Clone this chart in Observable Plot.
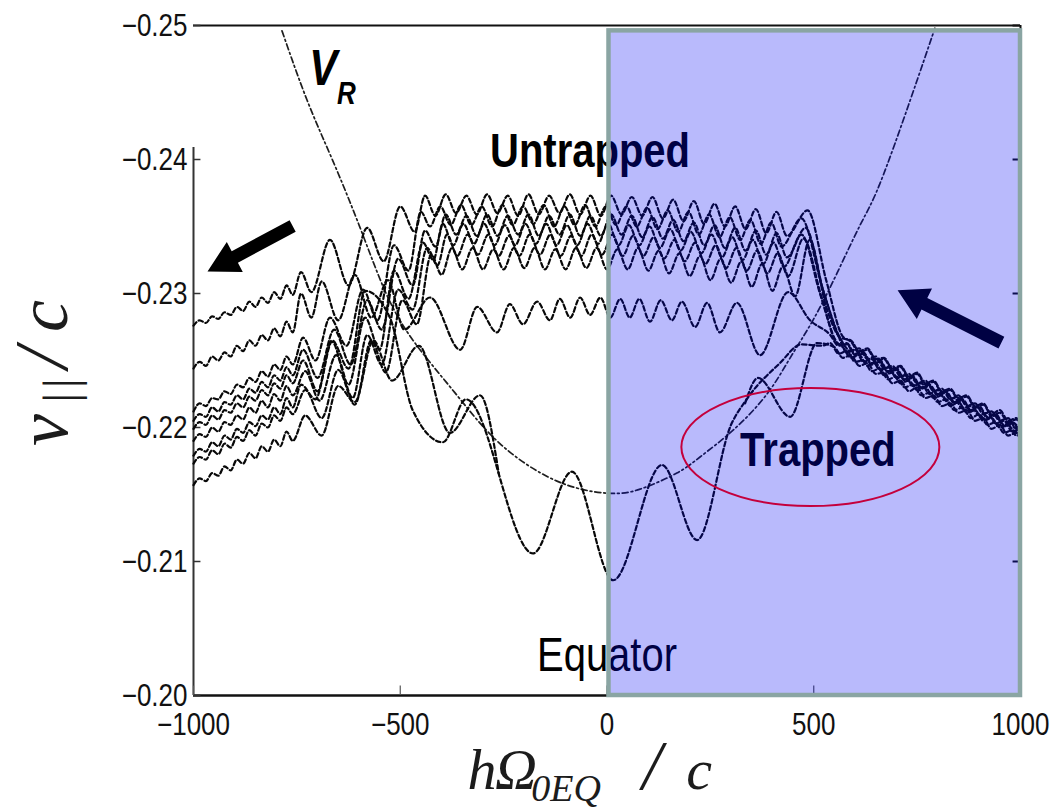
<!DOCTYPE html>
<html>
<head>
<meta charset="utf-8">
<script src="https://cdn.jsdelivr.net/npm/d3@7"></script>
<script src="https://cdn.jsdelivr.net/npm/@observablehq/plot@0.6"></script>
<style>
  html, body { margin: 0; padding: 0; background: #fff; }
  #chart { width: 1053px; height: 810px; }
</style>
</head>
<body>
<div id="chart"></div>
<script>
// Axis ticks
const xTicks = [-1000, -500, 0, 500, 1000];
const yTicks = [-0.25, -0.24, -0.23, -0.22, -0.21, -0.20];

// Resonance velocity V_R along the field line: [h, v]
const resonanceVR = [
  [-786,-0.2496],[-725,-0.2444],[-663,-0.2399],[-597,-0.2349],[-537,-0.2302],[-469,-0.2265],
  [-368,-0.2226],[-259,-0.2188],[-121,-0.2160],[0,-0.2151],[80,-0.2154],[169,-0.2166],
  [225,-0.2178],[305,-0.2198],[387,-0.2225],[443,-0.2252],[498,-0.2280],[556,-0.2315],
  [612,-0.2351],[660,-0.2382],[733,-0.2444],[793,-0.2498]
];

// Particle orbits, [h, v] at the turning points of the oscillation
const untrappedA = [
  [-1000,-0.2276],[-985,-0.2280],[-970,-0.2278],[-955,-0.2283],[-940,-0.2281],[-925,-0.2286],[-910,-0.2284],[-895,-0.2290],[-880,-0.2287],[-865,-0.2294],[-850,-0.2290],[-835,-0.2297],[-820,-0.2293],[-805,-0.2301],[-790,-0.2296],[-775,-0.2306],[-760,-0.2299],
  [-740,-0.2316],[-715,-0.2301],[-670,-0.2340],[-625,-0.2306],[-580,-0.2349],[-540,-0.2324],[-500,-0.2365],[-465,-0.2346],
  [-440,-0.2373],[-415,-0.2358],[-390,-0.2374],[-365,-0.2360],[-340,-0.2373],[-315,-0.2359],[-290,-0.2374],[-265,-0.2360],[-240,-0.2373],[-215,-0.2358],[-190,-0.2374],[-165,-0.2359],[-140,-0.2373],[-115,-0.2360],[-90,-0.2374],[-65,-0.2359],[-40,-0.2373],[-15,-0.2358],[10,-0.2373],[35,-0.2359],[60,-0.2372],[85,-0.2358],[110,-0.2372],[135,-0.2356],[160,-0.2370],[185,-0.2354],[210,-0.2369],[235,-0.2352],[260,-0.2367],[285,-0.2350],[310,-0.2365],[335,-0.2348],[360,-0.2363],[385,-0.2345],[410,-0.2361],[435,-0.2343],
  [485,-0.2362],[530,-0.2310],[570,-0.2268],
  [590,-0.2264],[610,-0.2256],[630,-0.2258],[650,-0.2250],[670,-0.2251],[690,-0.2243],[710,-0.2245],[730,-0.2237],[750,-0.2240],[770,-0.2232],[790,-0.2234],[810,-0.2226],[830,-0.2228],[850,-0.2221],[870,-0.2223],[890,-0.2215],[910,-0.2217],[930,-0.2209],[950,-0.2211],[970,-0.2204],[990,-0.2206],[1000,-0.2202]
];
const untrappedB = [
  [-1000,-0.2212],[-985,-0.2218],[-970,-0.2216],[-955,-0.2222],[-940,-0.2221],[-925,-0.2227],[-910,-0.2225],[-895,-0.2232],[-880,-0.2230],[-865,-0.2237],[-850,-0.2234],[-835,-0.2242],[-820,-0.2238],[-805,-0.2247],[-790,-0.2243],[-775,-0.2253],[-760,-0.2247],
  [-735,-0.2267],[-705,-0.2250],[-670,-0.2282],[-630,-0.2261],[-590,-0.2303],[-555,-0.2280],[-515,-0.2336],[-480,-0.2317],[-450,-0.2361],
  [-428,-0.2350],[-403,-0.2365],[-378,-0.2351],[-353,-0.2366],[-328,-0.2351],[-303,-0.2365],[-278,-0.2350],[-253,-0.2366],[-228,-0.2351],[-203,-0.2365],[-178,-0.2352],[-153,-0.2366],[-128,-0.2350],[-103,-0.2365],[-78,-0.2351],[-53,-0.2366],[-28,-0.2350],[-3,-0.2365],[22,-0.2351],[47,-0.2365],[72,-0.2350],[97,-0.2364],[122,-0.2348],[147,-0.2362],[172,-0.2346],[197,-0.2361],[222,-0.2344],[247,-0.2359],[272,-0.2342],[297,-0.2357],[322,-0.2340],[347,-0.2355],[372,-0.2337],[397,-0.2353],[422,-0.2335],
  [470,-0.2356],[520,-0.2305],[560,-0.2268],
  [580,-0.2256],[600,-0.2258],[620,-0.2249],[640,-0.2251],[660,-0.2243],[680,-0.2245],[700,-0.2237],[720,-0.2239],[740,-0.2231],[760,-0.2233],[780,-0.2225],[800,-0.2228],[820,-0.2220],[840,-0.2222],[860,-0.2214],[880,-0.2216],[900,-0.2209],[920,-0.2211],[940,-0.2203],[960,-0.2205],[980,-0.2197],[1000,-0.2199]
];
const untrappedC = [
  [-1000,-0.2205],[-985,-0.2210],[-970,-0.2208],[-955,-0.2215],[-940,-0.2212],[-925,-0.2219],[-910,-0.2217],[-895,-0.2224],[-880,-0.2221],[-865,-0.2229],[-850,-0.2226],[-835,-0.2234],[-820,-0.2230],[-805,-0.2239],[-790,-0.2235],[-775,-0.2245],[-760,-0.2239],
  [-735,-0.2258],[-700,-0.2237],[-660,-0.2273],[-620,-0.2247],[-580,-0.2295],[-545,-0.2273],[-505,-0.2326],[-470,-0.2306],[-440,-0.2347],
  [-415,-0.2335],[-390,-0.2359],[-365,-0.2344],[-340,-0.2358],[-315,-0.2343],[-290,-0.2359],[-265,-0.2343],[-240,-0.2358],[-215,-0.2344],[-190,-0.2359],[-165,-0.2343],[-140,-0.2358],[-115,-0.2344],[-90,-0.2359],[-65,-0.2343],[-40,-0.2358],[-15,-0.2343],[10,-0.2359],[35,-0.2344],[60,-0.2358],[85,-0.2342],[110,-0.2357],[135,-0.2341],[160,-0.2355],[185,-0.2339],[210,-0.2353],[235,-0.2336],[260,-0.2351],[285,-0.2334],[310,-0.2349],[335,-0.2332],[360,-0.2347],[385,-0.2329],[410,-0.2345],[435,-0.2327],
  [480,-0.2349],[525,-0.2300],[565,-0.2266],
  [590,-0.2257],[610,-0.2259],[630,-0.2251],[650,-0.2253],[670,-0.2244],[690,-0.2246],[710,-0.2238],[730,-0.2240],[750,-0.2233],[770,-0.2235],[790,-0.2227],[810,-0.2229],[830,-0.2221],[850,-0.2224],[870,-0.2216],[890,-0.2218],[910,-0.2210],[930,-0.2212],[950,-0.2205],[970,-0.2207],[990,-0.2199],[1000,-0.2201]
];
const untrappedD = [
  [-1000,-0.2199],[-985,-0.2204],[-970,-0.2202],[-955,-0.2209],[-940,-0.2206],[-925,-0.2213],[-910,-0.2211],[-895,-0.2218],[-880,-0.2215],[-865,-0.2223],[-850,-0.2220],[-835,-0.2228],[-820,-0.2224],[-805,-0.2233],[-790,-0.2229],[-775,-0.2239],[-760,-0.2233],
  [-735,-0.2250],[-700,-0.2227],[-665,-0.2264],[-625,-0.2232],[-585,-0.2282],[-550,-0.2258],[-515,-0.2317],[-480,-0.2296],[-445,-0.2338],[-420,-0.2325],
  [-397,-0.2352],[-372,-0.2336],[-347,-0.2352],[-322,-0.2337],[-297,-0.2352],[-272,-0.2336],[-247,-0.2351],[-222,-0.2336],[-197,-0.2352],[-172,-0.2337],[-147,-0.2352],[-122,-0.2336],[-97,-0.2351],[-72,-0.2336],[-47,-0.2352],[-22,-0.2337],[3,-0.2352],[28,-0.2336],[53,-0.2351],[78,-0.2336],[103,-0.2350],[128,-0.2334],[153,-0.2348],[178,-0.2332],[203,-0.2346],[228,-0.2330],[253,-0.2344],[278,-0.2327],[303,-0.2342],[328,-0.2325],[353,-0.2340],[378,-0.2322],[403,-0.2338],[428,-0.2320],
  [470,-0.2344],[515,-0.2300],[555,-0.2264],
  [570,-0.2260],[590,-0.2252],[610,-0.2254],[630,-0.2246],[650,-0.2248],[670,-0.2239],[690,-0.2241],[710,-0.2233],[730,-0.2235],[750,-0.2228],[770,-0.2230],[790,-0.2222],[810,-0.2224],[830,-0.2216],[850,-0.2219],[870,-0.2211],[890,-0.2213],[910,-0.2205],[930,-0.2207],[950,-0.2200],[970,-0.2202],[990,-0.2194],[1000,-0.2195]
];
const untrappedE = [
  [-1000,-0.2190],[-985,-0.2195],[-970,-0.2193],[-955,-0.2200],[-940,-0.2197],[-925,-0.2204],[-910,-0.2202],[-895,-0.2209],[-880,-0.2206],[-865,-0.2215],[-850,-0.2211],[-835,-0.2220],[-820,-0.2215],[-805,-0.2225],[-790,-0.2220],[-775,-0.2231],[-760,-0.2224],
  [-730,-0.2242],[-695,-0.2220],[-655,-0.2254],[-615,-0.2222],[-580,-0.2269],[-545,-0.2247],[-505,-0.2303],[-470,-0.2288],[-435,-0.2334],[-410,-0.2321],
  [-387,-0.2344],[-362,-0.2328],[-337,-0.2344],[-312,-0.2329],[-287,-0.2344],[-262,-0.2328],[-237,-0.2343],[-212,-0.2328],[-187,-0.2344],[-162,-0.2329],[-137,-0.2344],[-112,-0.2328],[-87,-0.2343],[-62,-0.2328],[-37,-0.2344],[-12,-0.2329],[13,-0.2344],[38,-0.2328],[63,-0.2343],[88,-0.2328],[113,-0.2342],[138,-0.2326],[163,-0.2340],[188,-0.2324],[213,-0.2338],[238,-0.2322],[263,-0.2336],[288,-0.2319],[313,-0.2334],[338,-0.2317],[363,-0.2332],[388,-0.2315],[413,-0.2330],[438,-0.2313],
  [475,-0.2341],[520,-0.2296],[560,-0.2262],
  [580,-0.2262],[600,-0.2254],[620,-0.2255],[640,-0.2247],[660,-0.2249],[680,-0.2241],[700,-0.2243],[720,-0.2235],[740,-0.2237],[760,-0.2229],[780,-0.2231],[800,-0.2224],[820,-0.2226],[840,-0.2218],[860,-0.2220],[880,-0.2212],[900,-0.2215],[920,-0.2207],[940,-0.2209],[960,-0.2201],[980,-0.2203],[1000,-0.2196]
];
const untrappedF = [
  [-1000,-0.2173],[-985,-0.2178],[-970,-0.2176],[-955,-0.2183],[-940,-0.2180],[-925,-0.2188],[-910,-0.2185],[-895,-0.2193],[-880,-0.2190],[-865,-0.2198],[-850,-0.2194],[-835,-0.2203],[-820,-0.2200],[-805,-0.2209],[-790,-0.2205],[-775,-0.2215],[-760,-0.2210],
  [-730,-0.2228],[-690,-0.2207],[-650,-0.2243],[-610,-0.2217],[-570,-0.2265],[-535,-0.2241],[-495,-0.2295],[-460,-0.2277],[-425,-0.2329],[-400,-0.2314],
  [-375,-0.2334],[-350,-0.2318],[-325,-0.2334],[-300,-0.2318],[-275,-0.2333],[-250,-0.2318],[-225,-0.2334],[-200,-0.2319],[-175,-0.2334],[-150,-0.2318],[-125,-0.2333],[-100,-0.2318],[-75,-0.2334],[-50,-0.2319],[-25,-0.2334],[0,-0.2318],[25,-0.2333],[50,-0.2318],[75,-0.2334],[100,-0.2317],[125,-0.2332],[150,-0.2315],[175,-0.2330],[200,-0.2313],[225,-0.2328],[250,-0.2310],[275,-0.2326],[300,-0.2308],[325,-0.2324],[350,-0.2305],[375,-0.2322],[400,-0.2302],[425,-0.2320],
  [455,-0.2298],[490,-0.2340],[530,-0.2290],[565,-0.2267],
  [590,-0.2265],[610,-0.2257],[630,-0.2259],[650,-0.2251],[670,-0.2252],[690,-0.2244],[710,-0.2246],[730,-0.2238],[750,-0.2241],[770,-0.2233],[790,-0.2235],[810,-0.2227],[830,-0.2229],[850,-0.2222],[870,-0.2224],[890,-0.2216],[910,-0.2218],[930,-0.2210],[950,-0.2213],[970,-0.2205],[990,-0.2207],[1000,-0.2203]
];
const untrappedLow = [
  [-1000,-0.2244],[-985,-0.2249],[-970,-0.2246],[-955,-0.2253],[-940,-0.2250],[-925,-0.2256],[-910,-0.2253],[-895,-0.2261],[-880,-0.2257],[-865,-0.2265],[-850,-0.2261],[-835,-0.2269],[-820,-0.2265],[-805,-0.2274],[-790,-0.2268],[-775,-0.2279],[-760,-0.2271],
  [-740,-0.2300],[-715,-0.2282],[-690,-0.2309],[-650,-0.2280],[-610,-0.2314],[-570,-0.2282],[-530,-0.2310],[-490,-0.2273],[-428,-0.2297],[-355,-0.2258],[-314,-0.2290],[-266,-0.2271],[-235,-0.2292],[-203,-0.2277],[-169,-0.2294],[-138,-0.2280],[-114,-0.2296],[-89,-0.2282],[-65,-0.2297],[-41,-0.2284],[-16,-0.2297],[8,-0.2282],[32,-0.2296],[55,-0.2282],[78,-0.2296],[104,-0.2279],[130,-0.2295],[157,-0.2280],[181,-0.2294],[213,-0.2275],[242,-0.2293],[273,-0.2271],[314,-0.2293],[370,-0.2254],[438,-0.2301],[491,-0.2280],
  [540,-0.2269],[560,-0.2261],[580,-0.2263],[600,-0.2255],[620,-0.2256],[640,-0.2248],[660,-0.2250],[680,-0.2242],[700,-0.2244],[720,-0.2236],[740,-0.2238],[760,-0.2230],[780,-0.2232],[800,-0.2225],[820,-0.2227],[840,-0.2219],[860,-0.2221],[880,-0.2213],[900,-0.2216],[920,-0.2208],[940,-0.2210],[960,-0.2202],[980,-0.2204],[1000,-0.2197]
];
const trappedDeep = [
  [-1000,-0.2179],[-985,-0.2184],[-970,-0.2182],[-955,-0.2189],[-940,-0.2186],[-925,-0.2194],[-910,-0.2191],[-895,-0.2199],[-880,-0.2196],[-865,-0.2204],[-850,-0.2201],[-835,-0.2209],[-820,-0.2206],[-805,-0.2215],[-790,-0.2210],[-775,-0.2222],[-760,-0.2215],
  [-740,-0.2232],[-705,-0.2221],[-665,-0.2265],[-625,-0.2244],[-585,-0.2302],[-525,-0.2282],[-470,-0.2213],[-397,-0.2189],[-341,-0.2221],[-179,-0.2106],[-85,-0.2167],[15,-0.2086],[133,-0.2172],[218,-0.2116],[300,-0.2202],[340,-0.2222],[418,-0.2248],[470,-0.2262],
  [520,-0.2261],[540,-0.2263],[560,-0.2255],[580,-0.2257],[600,-0.2249],[620,-0.2250],[640,-0.2242],[660,-0.2244],[680,-0.2236],[700,-0.2238],[720,-0.2230],[740,-0.2232],[760,-0.2224],[780,-0.2226],[800,-0.2219],[820,-0.2221],[840,-0.2213],[860,-0.2215],[880,-0.2207],[900,-0.2210],[920,-0.2202],[940,-0.2204],[960,-0.2196],[980,-0.2198],[1000,-0.2193]
];
// Second trapped orbit: where it leaves the deep one on each side
const trappedSecondWest = [
  [-1000,-0.2157],[-985,-0.2162],[-970,-0.2160],[-955,-0.2166],[-940,-0.2164],[-925,-0.2171],[-910,-0.2168],[-895,-0.2176],[-880,-0.2173],[-865,-0.2181],[-850,-0.2177],[-835,-0.2186],[-820,-0.2182],[-805,-0.2191],[-790,-0.2186],[-775,-0.2197],[-760,-0.2190],
  [-730,-0.2209],[-690,-0.2194],[-650,-0.2231],[-610,-0.2219],[-565,-0.2265],[-520,-0.2235],[-455,-0.2261],[-380,-0.2196],[-307,-0.2224],[-262,-0.2166]
];
const trappedSecondEast = [
  [334,-0.2218],[365,-0.2237],[443,-0.2208],[508,-0.2263],
  [550,-0.2260],[570,-0.2252],[590,-0.2254],[610,-0.2246],[630,-0.2248],[650,-0.2240],[670,-0.2241],[690,-0.2233],[710,-0.2235],[730,-0.2227],[750,-0.2230],[770,-0.2222],[790,-0.2224],[810,-0.2216],[830,-0.2218],[850,-0.2211],[870,-0.2213],[890,-0.2205],[910,-0.2207],[930,-0.2199],[950,-0.2202],[970,-0.2194],[990,-0.2196],[1000,-0.2192]
];

// Long-format table for the line mark
const orbits = {untrappedA, untrappedB, untrappedC, untrappedD, untrappedE, untrappedF,
  untrappedLow, trappedDeep, trappedSecondWest, trappedSecondEast};
const rows = [];
for (const [id, pts] of Object.entries(orbits)) for (const [h, v] of pts) rows.push({id, h, v});

// Shaded half of the field line (equator to h = 1000)
const shadedSide = [{from: 0, to: 1000}];

const minus = s => s.replace("-", "\u2212");
const sans = "'Liberation Sans', Arial, Helvetica, sans-serif";

const chart = Plot.plot({
  width: 1053,
  height: 810,
  marginLeft: 193,
  marginRight: 33,
  marginTop: 25,
  marginBottom: 115,
  style: {background: "#fff", fontFamily: sans, fontSize: "26px", color: "#111", overflow: "visible"},
  x: {domain: [-1000, 1000], ticks: xTicks, tickSize: 0, tickPadding: 19, tickFormat: d => minus(String(d)), label: null},
  y: {domain: [-0.25, -0.20], reverse: true, ticks: yTicks, tickSize: 0, tickPadding: 6, tickFormat: d => minus(d.toFixed(2)), label: null},
  marks: [
    // frame and inward ticks
    Plot.ruleY([-0.25], {x1: () => -1000, x2: () => 1000, stroke: "#111", strokeWidth: 2}),
    Plot.ruleY([-0.20], {x1: () => -1000, x2: () => 1000, stroke: "#111", strokeWidth: 2.5}),
    Plot.ruleX([-1000], {y1: () => -0.2409, y2: () => -0.20, stroke: "#333", strokeWidth: 2}),
    Plot.ruleX([1000], {y1: () => -0.25, y2: () => -0.20, stroke: "#111", strokeWidth: 2}),
    Plot.ruleY(yTicks, {x1: () => -1000, x2: () => -982, stroke: "#333", strokeWidth: 1.5}),
    Plot.ruleY(yTicks, {x1: () => 982, x2: () => 1000, stroke: "#111", strokeWidth: 2}),
    Plot.ruleX(xTicks, {y1: () => -0.20, y2: () => -0.2007, stroke: "#555", strokeWidth: 1.2}),

    // resonance velocity
    Plot.line(resonanceVR, {x: d => d[0], y: d => d[1], curve: "natural",
      stroke: "#1e1e1e", strokeWidth: 1.7, strokeDasharray: "6,3,1.8,3"}),

    // orbits
    Plot.line(rows, {x: "h", y: "v", z: "id", curve: "monotone-x",
      stroke: "#080808", strokeWidth: 2.2, strokeDasharray: "4.5,2.8"}),

    // annotations
    Plot.text(["Untrapped"], {x: () => -41, y: () => -0.2406, text: d => d,
      fontSize: 40, fontWeight: "bold", fill: "#000"}),
    Plot.text(["Trapped"], {x: () => 510, y: () => -0.2183, text: d => d,
      fontSize: 40, fontWeight: "bold", fill: "#000"}),
    Plot.text(["Equator"], {x: () => 0, y: () => -0.2030, text: d => d,
      fontSize: 40, fill: "#000"}),
    Plot.text(["V"], {x: () => -686, y: () => -0.2468, text: d => d,
      fontSize: 42, fontWeight: "bold", fontStyle: "italic", fill: "#000"}),
    Plot.text(["R"], {x: () => -630, y: () => -0.2449, text: d => d,
      fontSize: 26, fontWeight: "bold", fontStyle: "italic", fill: "#000"}),

    // translucent blue box over the h > 0 side, then its border
    Plot.rect(shadedSide, {x1: "from", x2: "to", y1: () => -0.2496, y2: () => -0.2000,
      fill: "rgb(0,5,244)", fillOpacity: 0.275, insetLeft: 2}),
    Plot.rect(shadedSide, {x1: "from", x2: "to", y1: () => -0.2496, y2: () => -0.2000,
      fill: "none", stroke: "#8aa5a3", strokeWidth: 4.5, insetLeft: 2})
  ]
});

document.getElementById("chart").appendChild(chart);

const svgNS = "http://www.w3.org/2000/svg";
const xs = chart.scale("x"), ys = chart.scale("y");
const px = h => xs.apply ? xs.apply(h) : 193 + (h + 1000) / 2000 * 827;
const py = v => ys.apply ? ys.apply(v) : 25 + (v + 0.25) / 0.05 * 670;

// taller lettering, as in the printed figure
chart.querySelectorAll("text").forEach(t => {
  const b = t.getBBox();
  const cy = b.y + b.height / 2;
  const prev = t.getAttribute("transform") || "";
  t.setAttribute("transform", `${prev} translate(0,${cy}) scale(1,1.2) translate(0,${-cy})`);
});

function el(name, attrs, parent) {
  const e = document.createElementNS(svgNS, name);
  for (const [k, v] of Object.entries(attrs)) e.setAttribute(k, v);
  if (parent) parent.appendChild(e);
  return e;
}

// block arrows showing the direction of motion (drawn under the blue box)
function arrowPath(x0, y0, x1, y1, headLen, headHalf, shaftHalf) {
  const dx = x1 - x0, dy = y1 - y0, L = Math.hypot(dx, dy);
  const ux = dx / L, uy = dy / L, nx = -uy, ny = ux;
  const bx = x1 - ux * headLen, by = y1 - uy * headLen;
  const p = [
    [x0 + nx * shaftHalf, y0 + ny * shaftHalf], [bx + nx * shaftHalf, by + ny * shaftHalf],
    [bx + nx * headHalf, by + ny * headHalf], [x1, y1],
    [bx - nx * headHalf, by - ny * headHalf], [bx - nx * shaftHalf, by - ny * shaftHalf],
    [x0 - nx * shaftHalf, y0 - ny * shaftHalf]
  ];
  return "M" + p.map(q => q[0].toFixed(1) + "," + q[1].toFixed(1)).join("L") + "Z";
}
const arrows = el("g", {"aria-label": "arrows"});
el("path", {d: arrowPath(px(-759), py(-0.2350), px(-965), py(-0.2316), 31, 17, 6.5), fill: "#000"}, arrows);
el("path", {d: arrowPath(px(955), py(-0.2263), px(704), py(-0.2302), 30, 17, 6.5), fill: "#000"}, arrows);
const box = chart.querySelector('g[aria-label="rect"]');
if (box) chart.insertBefore(arrows, box); else chart.appendChild(arrows);

// red ellipse around the trapped label
el("ellipse", {cx: px(493), cy: py(-0.2185), rx: 129, ry: 59, fill: "none",
  stroke: "#c4003c", "stroke-width": 2}, chart);

// axis titles
const serif = "'Liberation Serif', 'DejaVu Serif', 'Times New Roman', serif";
const yTitle = el("text", {transform: "translate(67,430) rotate(-90)", "font-family": serif,
  "font-style": "italic", "font-size": 72, fill: "#1c1c1c"}, chart);
el("tspan", {x: 0}, yTitle).textContent = "v";
const bars = el("tspan", {x: 42, dy: 10, "font-size": 48, "font-style": "normal", "letter-spacing": 5}, yTitle);
bars.textContent = "||";
el("tspan", {x: 72, dy: -10, "font-size": 76}, yTitle).textContent = "/";
el("tspan", {x: 114}, yTitle).textContent = "c";

const xTitle = el("text", {"font-family": serif, "font-style": "italic", "font-size": 58,
  fill: "#1c1c1c", y: 789}, chart);
el("tspan", {x: 482}, xTitle).textContent = "h";
el("tspan", {x: 516}, xTitle).textContent = "\u03A9";
el("tspan", {x: 566, dy: 12, "font-size": 38}, xTitle).textContent = "0EQ";
el("tspan", {x: 652, dy: -12, "font-size": 70}, xTitle).textContent = "/";
el("tspan", {x: 699}, xTitle).textContent = "c";
</script>
</body>
</html>
